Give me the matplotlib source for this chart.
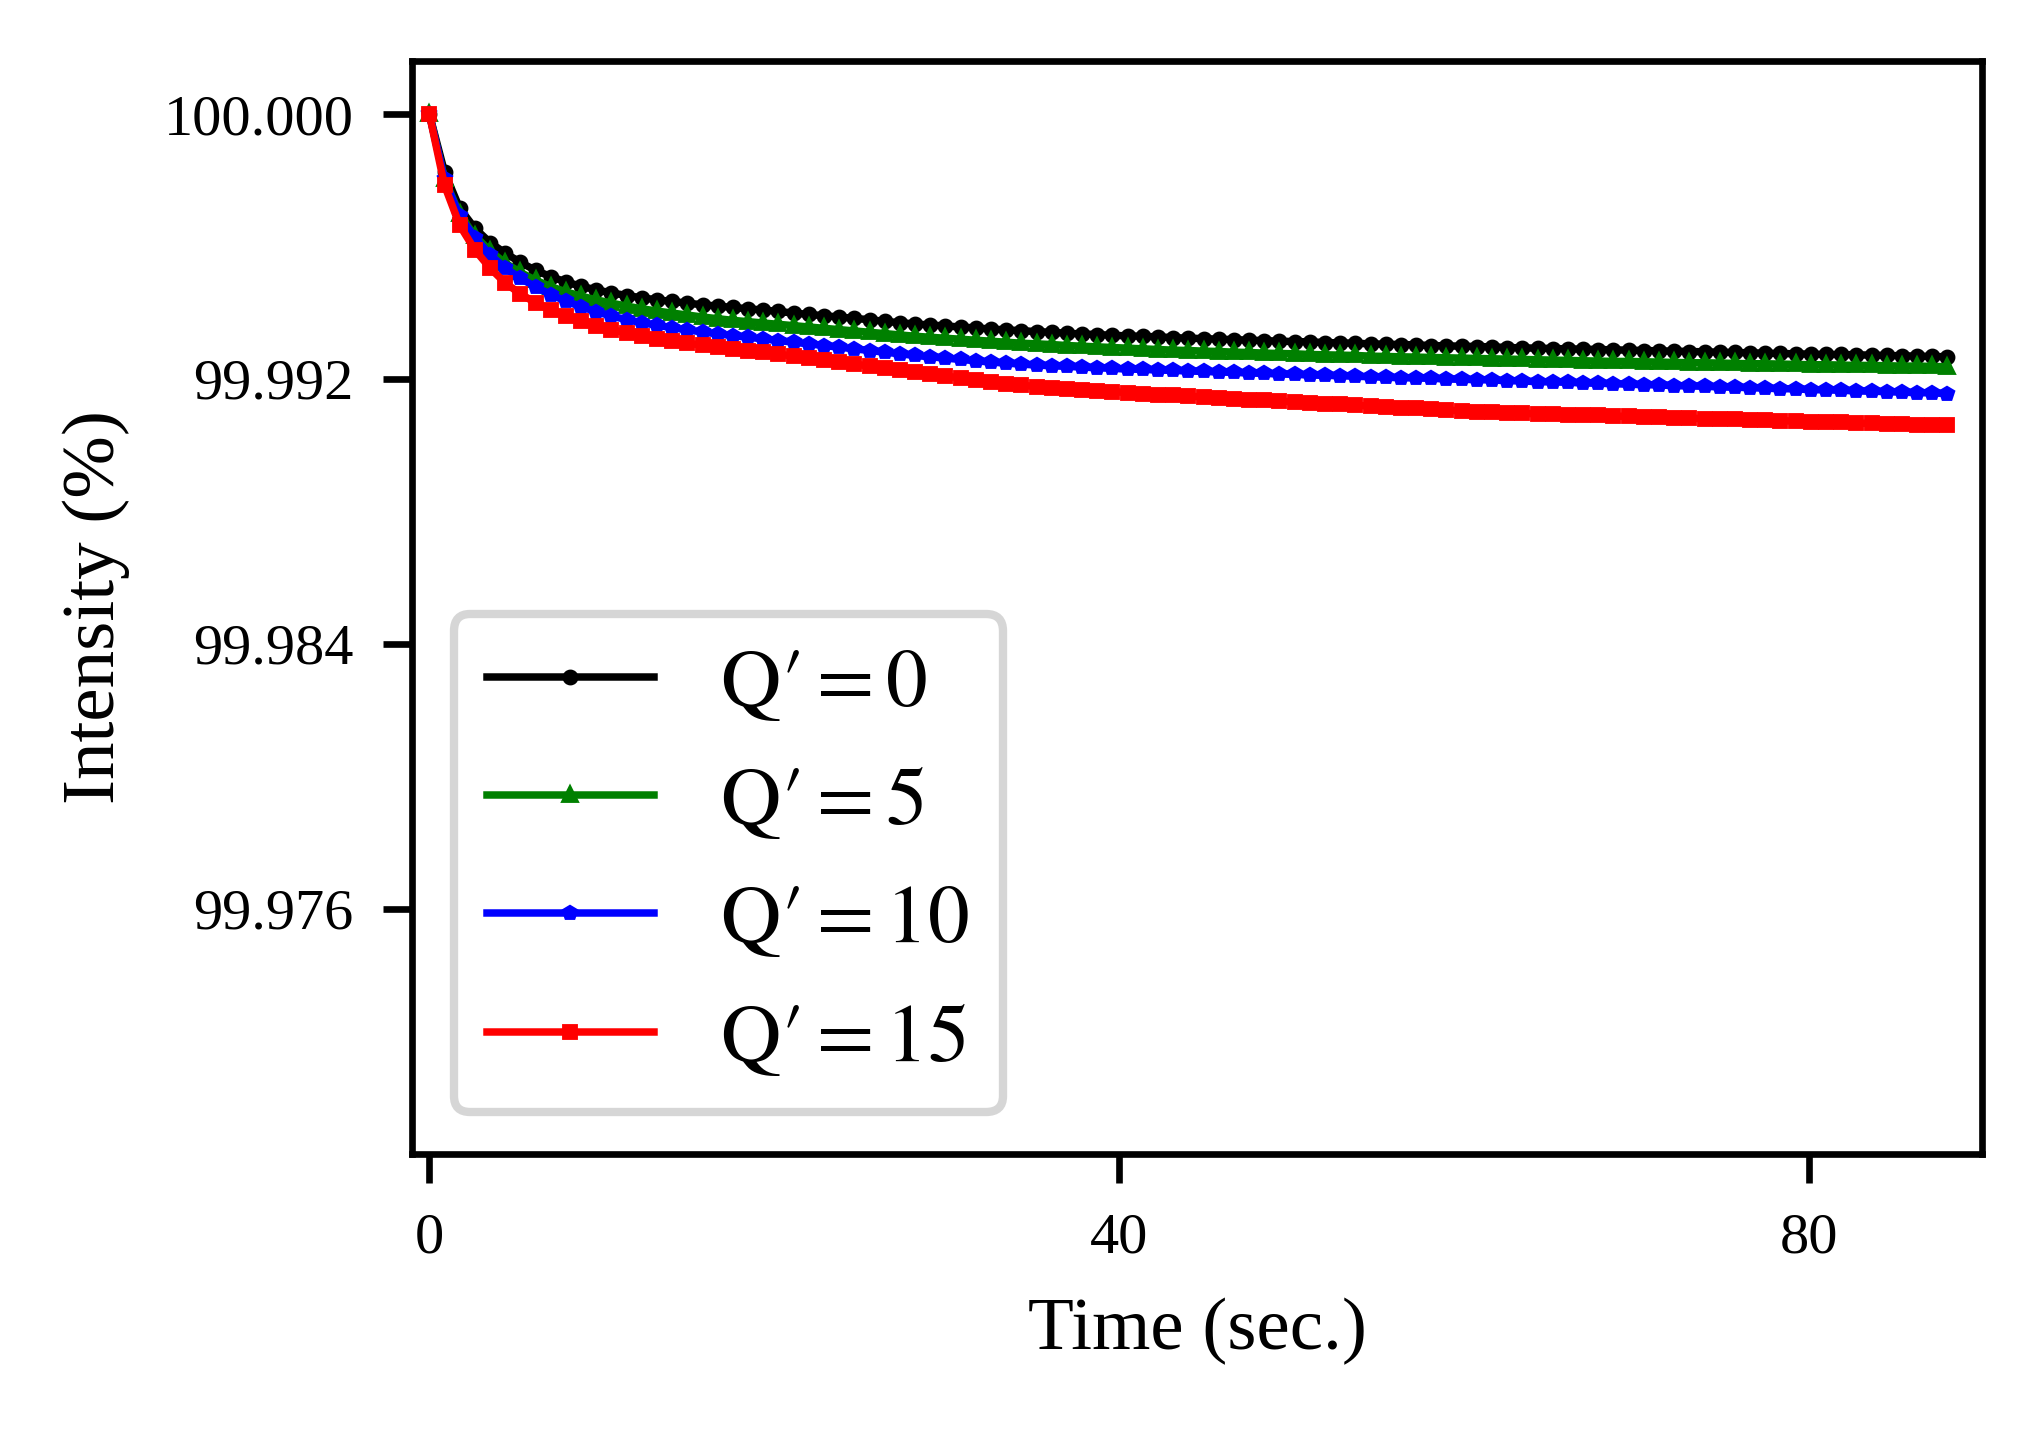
import numpy as np
import matplotlib
matplotlib.use("Agg")
import matplotlib.pyplot as plt

plt.rcParams["font.family"] = "serif"
plt.rcParams["font.serif"] = ["Liberation Serif", "STIXGeneral", "DejaVu Serif"]
plt.rcParams["mathtext.fontset"] = "stix"

# sample times (s), one point every 0.88 s
time = np.linspace(0, 88, 101)

# intensity drop below 100 %, in units of 0.001 %
drop_q0 = [0.00, 1.75, 2.85, 3.45, 3.88, 4.20, 4.48, 4.72, 4.91, 5.07,
           5.20, 5.31, 5.40, 5.48, 5.55, 5.61, 5.66, 5.71, 5.76, 5.80,
           5.84, 5.88, 5.92, 5.96, 6.01, 6.05, 6.09, 6.13, 6.17, 6.21,
           6.26, 6.30, 6.34, 6.37, 6.40, 6.43, 6.46, 6.49, 6.52, 6.54,
           6.57, 6.59, 6.62, 6.64, 6.66, 6.68, 6.70, 6.71, 6.73, 6.75,
           6.77, 6.78, 6.80, 6.81, 6.83, 6.84, 6.86, 6.87, 6.88, 6.90,
           6.91, 6.92, 6.94, 6.95, 6.96, 6.97, 6.99, 7.00, 7.01, 7.02,
           7.03, 7.05, 7.06, 7.07, 7.08, 7.09, 7.10, 7.11, 7.12, 7.13,
           7.14, 7.15, 7.16, 7.17, 7.18, 7.19, 7.20, 7.21, 7.22, 7.23,
           7.24, 7.25, 7.26, 7.26, 7.27, 7.28, 7.29, 7.30, 7.31, 7.32,
           7.33]
drop_q5 = [0.00, 1.95, 3.03, 3.68, 4.13, 4.50, 4.78, 5.02, 5.21, 5.37,
           5.50, 5.61, 5.71, 5.80, 5.88, 5.95, 6.01, 6.07, 6.13, 6.18,
           6.23, 6.27, 6.31, 6.35, 6.39, 6.43, 6.47, 6.51, 6.55, 6.59,
           6.63, 6.67, 6.71, 6.74, 6.77, 6.80, 6.83, 6.86, 6.89, 6.92,
           6.94, 6.96, 6.99, 7.01, 7.03, 7.05, 7.07, 7.09, 7.11, 7.13,
           7.14, 7.16, 7.17, 7.19, 7.20, 7.22, 7.23, 7.24, 7.26, 7.27,
           7.28, 7.29, 7.31, 7.32, 7.33, 7.34, 7.35, 7.36, 7.37, 7.38,
           7.39, 7.40, 7.41, 7.42, 7.43, 7.44, 7.45, 7.46, 7.47, 7.47,
           7.48, 7.49, 7.50, 7.51, 7.51, 7.52, 7.53, 7.54, 7.54, 7.55,
           7.56, 7.57, 7.57, 7.58, 7.59, 7.59, 7.60, 7.61, 7.61, 7.62,
           7.63]
drop_q10 = [0.00, 1.97, 3.08, 3.73, 4.25, 4.65, 4.96, 5.22, 5.45, 5.65,
            5.82, 5.97, 6.10, 6.21, 6.30, 6.38, 6.45, 6.52, 6.58, 6.64,
            6.69, 6.74, 6.79, 6.84, 6.89, 6.94, 6.99, 7.04, 7.09, 7.14,
            7.19, 7.24, 7.29, 7.33, 7.37, 7.41, 7.45, 7.49, 7.52, 7.55,
            7.58, 7.60, 7.62, 7.64, 7.66, 7.68, 7.70, 7.71, 7.73, 7.74,
            7.76, 7.77, 7.79, 7.80, 7.82, 7.83, 7.85, 7.86, 7.88, 7.89,
            7.90, 7.92, 7.93, 7.95, 7.96, 7.97, 7.98, 8.00, 8.01, 8.02,
            8.03, 8.05, 8.06, 8.08, 8.09, 8.10, 8.12, 8.13, 8.14, 8.16,
            8.17, 8.18, 8.20, 8.21, 8.22, 8.24, 8.25, 8.26, 8.28, 8.29,
            8.30, 8.32, 8.33, 8.34, 8.36, 8.37, 8.38, 8.40, 8.41, 8.42,
            8.44]
drop_q15 = [0.00, 2.15, 3.36, 4.10, 4.65, 5.10, 5.43, 5.70, 5.92, 6.10,
            6.26, 6.40, 6.51, 6.61, 6.70, 6.78, 6.85, 6.92, 6.98, 7.04,
            7.09, 7.14, 7.19, 7.25, 7.31, 7.37, 7.43, 7.49, 7.55, 7.61,
            7.67, 7.73, 7.79, 7.85, 7.91, 7.97, 8.03, 8.09, 8.15, 8.19,
            8.23, 8.26, 8.29, 8.32, 8.35, 8.38, 8.41, 8.44, 8.47, 8.49,
            8.52, 8.54, 8.57, 8.59, 8.62, 8.64, 8.67, 8.69, 8.72, 8.74,
            8.77, 8.79, 8.82, 8.84, 8.87, 8.89, 8.92, 8.94, 8.96, 8.99,
            9.01, 9.02, 9.04, 9.05, 9.06, 9.08, 9.09, 9.10, 9.12, 9.13,
            9.14, 9.16, 9.17, 9.18, 9.20, 9.21, 9.22, 9.23, 9.25, 9.26,
            9.27, 9.29, 9.30, 9.31, 9.33, 9.34, 9.35, 9.36, 9.38, 9.39,
            9.40]

labels = [r"$\mathrm{Q}\prime=0$", r"$\mathrm{Q}\prime=5$",
          r"$\mathrm{Q}\prime=10$", r"$\mathrm{Q}\prime=15$"]
colors = ["black", "green", "blue", "red"]
markers = ["o", "^", "p", "s"]

fig = plt.figure(figsize=(2043 / 600, 1429 / 600), dpi=600)
ax = fig.add_axes([0.2017, 0.1924, 0.7684, 0.7649])

for d, lab, c, m in zip([drop_q0, drop_q5, drop_q10, drop_q15], labels, colors, markers):
    intensity = 100 - np.array(d) / 1000
    ax.plot(time, intensity, color=c, marker=m, markersize=1.2,
            markeredgewidth=0.7, linewidth=0.9, label=lab)

ax.set_xlim(-1, 90)
ax.set_ylim(99.9686, 100.0016)
ax.set_xticks([0, 40, 80])
ax.set_yticks([100.0, 99.992, 99.984, 99.976])
ax.set_yticklabels(["100.000", "99.992", "99.984", "99.976"])
ax.tick_params(labelsize=7)

ax.set_xlabel("Time (sec.)", fontsize=9)
ax.set_ylabel("Intensity (%)", fontsize=9)

ax.legend(loc="lower left", fontsize=10)

fig.savefig("out.png", dpi=600)
